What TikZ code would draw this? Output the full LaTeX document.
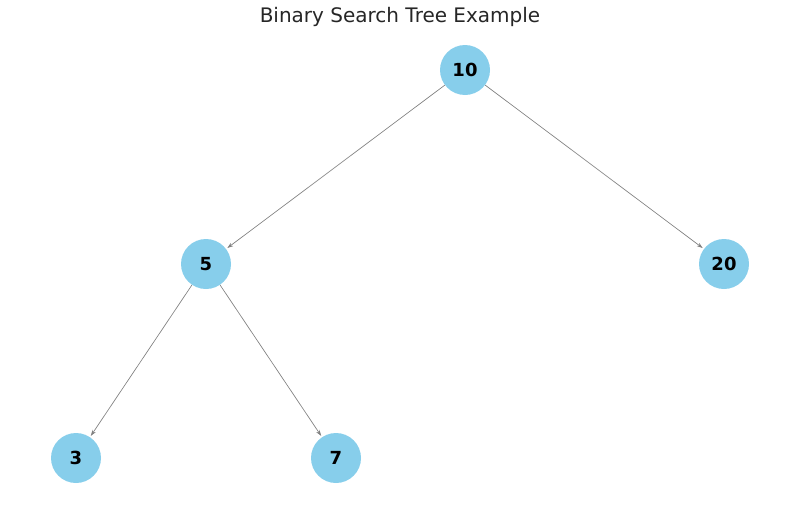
\documentclass[tikz,border=0pt]{standalone}
\usepackage{fontspec}
\setmainfont{DejaVu Sans}
\usetikzlibrary{arrows.meta}
\definecolor{skyblue}{HTML}{87CEEB}

\begin{document}
\begin{tikzpicture}[x=0.75pt, y=-0.75pt,
  treenode/.style={circle, fill=skyblue, minimum size=37.5pt, inner sep=0pt, font=\fontsize{13.5}{16}\selectfont\bfseries},
  treeedge/.style={draw=gray, line width=0.5pt, -{Stealth[length=4.5pt, width=3pt]}, shorten >=1pt}]
  \useasboundingbox (0,0) rectangle (800,507);

  % Title
  \node[font=\fontsize{15}{18}\selectfont, text=black!85] (title) at (400,17) {Binary Search Tree Example};

  % Nodes
  \node[treenode] (n10) at (465,70) {10};
  \node[treenode] (n5) at (206,264) {5};
  \node[treenode] (n20) at (724,264) {20};
  \node[treenode] (n3) at (76,458) {3};
  \node[treenode] (n7) at (336,458) {7};

  % Edges
  \draw[treeedge] (n10) -- (n5);
  \draw[treeedge] (n10) -- (n20);
  \draw[treeedge] (n5) -- (n3);
  \draw[treeedge] (n5) -- (n7);
\end{tikzpicture}
\end{document}
